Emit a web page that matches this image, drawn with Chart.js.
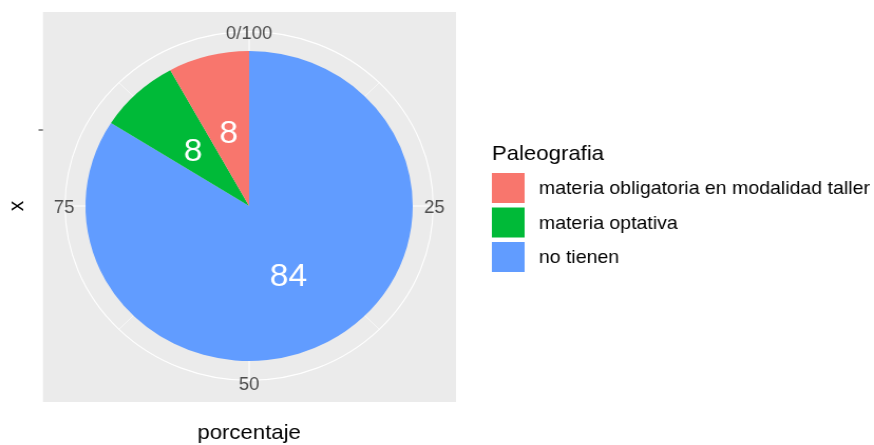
<!DOCTYPE html>
<html>
<head>
<meta charset="utf-8">
<script src="https://cdn.jsdelivr.net/npm/chart.js@4"></script>
<style>
  html, body { margin: 0; padding: 0; background: #fff; }
</style>
</head>
<body>
<!-- el original está estirado en horizontal: se dibuja a 828 px y se muestra a 874 -->
<canvas id="grafico" width="828" height="445" style="display:block;width:874px;height:445px"></canvas>
<script>
/* ── Datos ── */
const categorias = ["materia obligatoria en modalidad taller", "materia optativa", "no tienen"];
const porcentajes = [8, 8, 84];
const colores = ["#F8766D", "#00BA38", "#619CFF"];
const ticksTheta = ["0/100", "25", "50", "75"];
const valoresTheta = [0, 25, 50, 75];

const tituloLeyenda = "Paleografia";
const tituloX = "porcentaje";
const tituloY = "x";

const FUENTE = "'Liberation Sans', Arial, sans-serif";

// ggplot apila al revés: el último nivel arranca en las 12 en sentido horario
const orden = categorias.map((_, i) => i).reverse();

const fondoPolar = {
  id: "fondoPolar",
  beforeDatasetsDraw(chart) {
    const ctx = chart.ctx;
    const arc = chart.getDatasetMeta(0).data[0];
    const cx = arc.x, cy = arc.y, r = arc.outerRadius;
    const rExt = r * 0.45 / 0.4;

    ctx.save();
    ctx.fillStyle = "#EBEBEB";
    ctx.fillRect(40.7, 12, 391.3, 390);

    ctx.strokeStyle = "#FFFFFF";
    // radiales menores
    ctx.lineWidth = 0.6;
    [12.5, 37.5, 62.5, 87.5].forEach((v) => {
      const a = -Math.PI / 2 + (v / 100) * 2 * Math.PI;
      ctx.beginPath();
      ctx.moveTo(cx, cy);
      ctx.lineTo(cx + rExt * Math.cos(a), cy + rExt * Math.sin(a));
      ctx.stroke();
    });
    // radiales mayores
    ctx.lineWidth = 1.1;
    valoresTheta.forEach((v) => {
      const a = -Math.PI / 2 + (v / 100) * 2 * Math.PI;
      ctx.beginPath();
      ctx.moveTo(cx, cy);
      ctx.lineTo(cx + rExt * Math.cos(a), cy + rExt * Math.sin(a));
      ctx.stroke();
    });
    ctx.beginPath();
    ctx.arc(cx, cy, rExt, 0, 2 * Math.PI);
    ctx.stroke();
    ctx.restore();
  },
  afterDatasetsDraw(chart) {
    const ctx = chart.ctx;
    const meta = chart.getDatasetMeta(0);
    const ds = chart.data.datasets[0].data;
    ctx.save();
    ctx.fillStyle = "#FFFFFF";
    ctx.font = "32px " + FUENTE;
    ctx.textAlign = "center";
    ctx.textBaseline = "middle";
    meta.data.forEach((el, i) => {
      const a = (el.startAngle + el.endAngle) / 2;
      const rr = el.outerRadius * 0.5;
      ctx.fillText(String(ds[i]), el.x + rr * Math.cos(a), el.y + rr * Math.sin(a) + 3);
    });

    // etiquetas del eje theta
    const arc = meta.data[0];
    const cx = arc.x, cy = arc.y, rExt = arc.outerRadius * 0.45 / 0.4;
    ctx.fillStyle = "#4D4D4D";
    ctx.font = "17.5px " + FUENTE;
    ctx.fillText(ticksTheta[0], cx, cy - rExt + 3);
    ctx.fillText(ticksTheta[1], cx + rExt + 1, cy + 2);
    ctx.fillText(ticksTheta[2], cx, cy + rExt + 5);
    ctx.fillText(ticksTheta[3], cx - rExt - 1, cy + 2);

    // marca del eje radial
    ctx.strokeStyle = "#333333";
    ctx.lineWidth = 1.1;
    ctx.beginPath();
    ctx.moveTo(36.5, 130);
    ctx.lineTo(40.7, 130);
    ctx.stroke();

    // títulos de ejes
    ctx.fillStyle = "#000000";
    ctx.font = "21px " + FUENTE;
    ctx.fillText(tituloX, cx, 433);
    ctx.save();
    ctx.translate(16, cy);
    ctx.rotate(-Math.PI / 2);
    ctx.fillText(tituloY, 0, 0);
    ctx.restore();

    // leyenda
    ctx.textAlign = "left";
    ctx.font = "21px " + FUENTE;
    ctx.fillText(tituloLeyenda, 466, 154);
    const topes = [173, 207.5, 242];
    ctx.font = "18.5px " + FUENTE;
    categorias.forEach((c, i) => {
      ctx.fillStyle = colores[i];
      ctx.fillRect(466, topes[i], 31, 30);
      ctx.fillStyle = "#000000";
      ctx.fillText(c, 510.5, topes[i] + 16);
    });
    ctx.restore();
  },
};

new Chart(document.getElementById("grafico"), {
  type: "pie",
  data: {
    labels: orden.map((i) => categorias[i]),
    datasets: [
      {
        data: orden.map((i) => porcentajes[i]),
        backgroundColor: orden.map((i) => colores[i]),
        borderWidth: 0,
      },
    ],
  },
  options: {
    responsive: false,
    animation: false,
    events: [],
    layout: { padding: { left: 81, right: 437, top: 51, bottom: 84 } },
    plugins: {
      legend: { display: false },
      tooltip: { enabled: false },
    },
  },
  plugins: [fondoPolar],
});
</script>
</body>
</html>
